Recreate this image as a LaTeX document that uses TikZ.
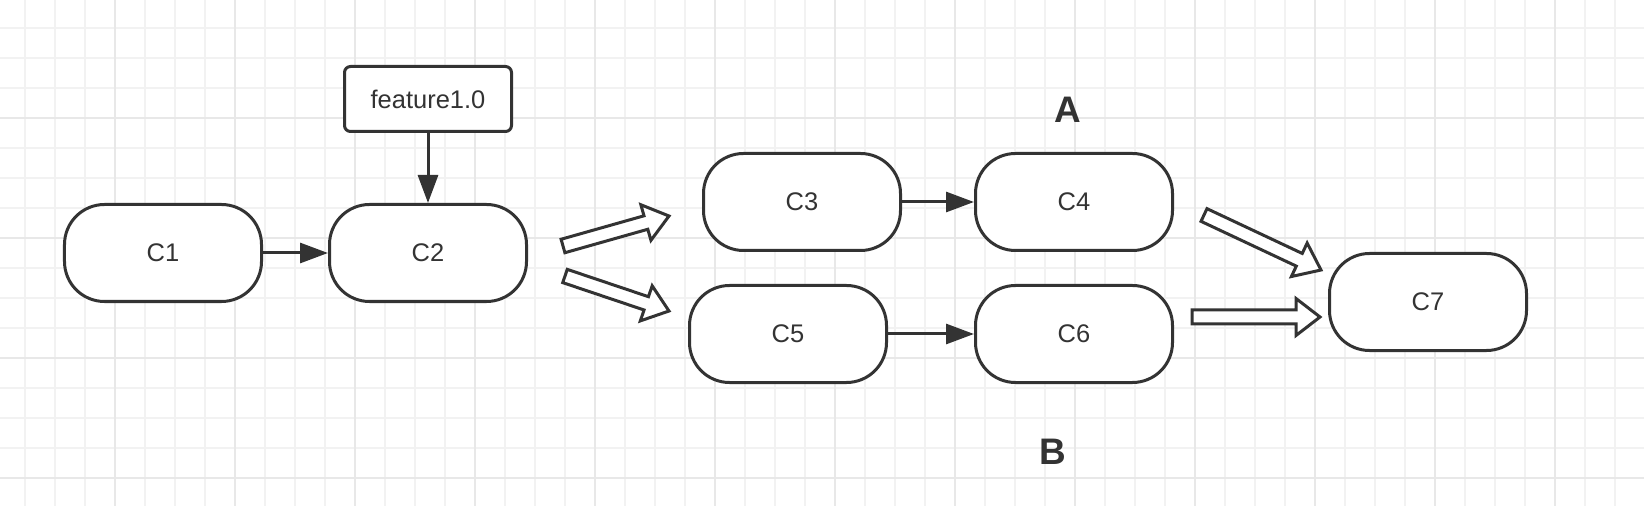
\documentclass[tikz,border=0pt]{standalone}
\usepackage{fontspec}
\setmainfont{Liberation Sans}
\usepackage{tikz}
\usetikzlibrary{arrows.meta, calc}
\usepackage{xcolor}
\definecolor{ink}{RGB}{51,51,51}
\definecolor{gridminor}{RGB}{242,242,242}
\definecolor{gridmajor}{RGB}{232,232,232}

\begin{document}
\begin{tikzpicture}[x=0.2mm, y=-0.2mm,
   every node/.style={font=\fontsize{14.5}{17}\selectfont, text=ink},
   commit/.style={draw=ink, fill=white, line width=0.6mm, rounded corners=8mm,
                  minimum width=39.4mm, minimum height=19.4mm, inner sep=0pt},
   tag/.style={draw=ink, fill=white, line width=0.6mm, rounded corners=1.2mm,
               minimum width=33.4mm, minimum height=13mm, inner sep=0pt},
   branch/.style={font=\bfseries\fontsize{21}{25}\selectfont},
   flow/.style={draw=ink, line width=0.6mm, -{Triangle[length=5.6mm, width=4mm]}},
   hollow/.style={draw=ink, fill=white, line width=0.6mm, line join=miter,
     to path={($(\tikztostart)!1.4mm!90:(\tikztotarget)$)
       -- ($($(\tikztotarget)!4.8mm!(\tikztostart)$)!1.4mm!-90:(\tikztostart)$)
       -- ($($(\tikztotarget)!4.8mm!(\tikztostart)$)!3.7mm!-90:(\tikztostart)$)
       -- (\tikztotarget)
       -- ($($(\tikztotarget)!4.8mm!(\tikztostart)$)!3.7mm!90:(\tikztostart)$)
       -- ($($(\tikztotarget)!4.8mm!(\tikztostart)$)!1.4mm!90:(\tikztostart)$)
       -- ($(\tikztostart)!1.4mm!-90:(\tikztotarget)$) -- cycle}}]

  % canvas and grid
  \fill[white] (0,0) rectangle (1644,506);
  \useasboundingbox (0,0) rectangle (1644,506);
  \foreach \x in {25,55,...,1645}
    \draw[gridminor, line width=0.35mm] (\x,0) -- (\x,506);
  \foreach \y in {28,58,...,500}
    \draw[gridminor, line width=0.35mm] (0,\y) -- (1644,\y);
  \foreach \x in {115,235,...,1600}
    \draw[gridmajor, line width=0.4mm] (\x,0) -- (\x,506);
  \foreach \y in {118,238,...,500}
    \draw[gridmajor, line width=0.4mm] (0,\y) -- (1644,\y);

  % commits
  \node[commit] (c1) at (163,253) {C1};
  \node[commit] (c2) at (428,253) {C2};
  \node[tag] (feat) at (428,99) {feature1.0};
  \node[commit] (c3) at (802,202) {C3};
  \node[commit] (c4) at (1074,202) {C4};
  \node[commit] (c5) at (788,334) {C5};
  \node[commit] (c6) at (1074,334) {C6};
  \node[commit] (c7) at (1428,302) {C7};

  % branch labels
  \node[branch] (la) at (1068,110) {A};
  \node[branch] (lb) at (1053,452) {B};

  \draw[flow] (c1) -- (c2);
  \draw[flow] (feat) -- (c2);
  \draw[flow] (c3) -- (c4);
  \draw[flow] (c5) -- (c6);

  % split and merge
  \coordinate (h1a) at (563,246);  \coordinate (h1b) at (669,216);
  \coordinate (h2a) at (565,276);  \coordinate (h2b) at (669,311);
  \coordinate (h3a) at (1204,215); \coordinate (h3b) at (1321,270);
  \coordinate (h4a) at (1192,317); \coordinate (h4b) at (1320,317);
  \draw[hollow] (h1a) to (h1b);
  \draw[hollow] (h2a) to (h2b);
  \draw[hollow] (h3a) to (h3b);
  \draw[hollow] (h4a) to (h4b);
\end{tikzpicture}
\end{document}
